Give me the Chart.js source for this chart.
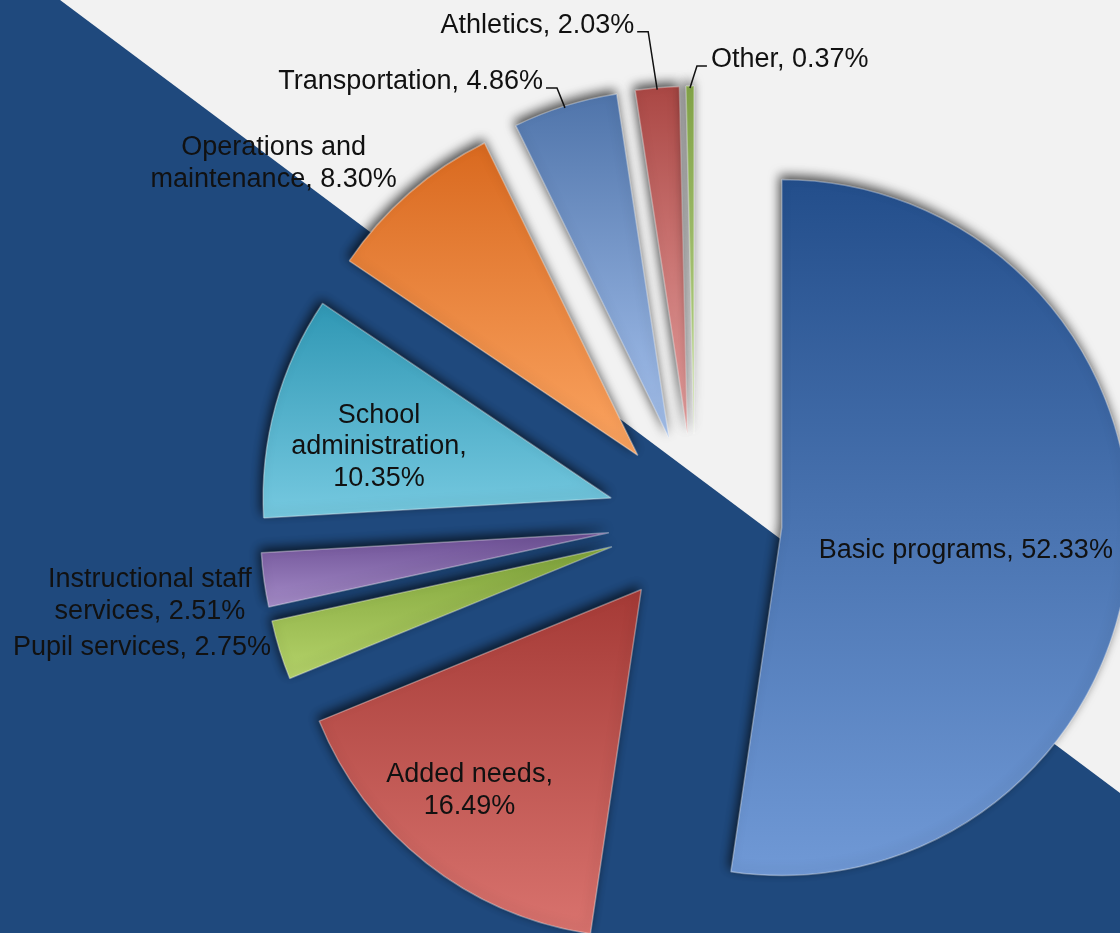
<!DOCTYPE html>
<html><head><meta charset="utf-8">
<script src="https://cdn.jsdelivr.net/npm/chart.js@4"></script>
<style>html,body{margin:0;padding:0;background:#f2f2f2;overflow:hidden}#wrap{width:1120px;height:933px;position:relative}</style>
</head><body><div id="wrap"><canvas id="c" width="1120" height="933"></canvas></div>
<script>
// ---- data ----
const categories = ['Basic programs','Added needs','Pupil services','Instructional staff services','School administration','Operations and maintenance','Transportation','Athletics','Other'];
const shares = [52.33,16.49,2.75,2.51,10.35,8.30,4.86,2.03,0.37];

// ---- styles / layout ----
const gradTop    = ['#234e8b','#a53a36','#7fa33a','#6c4f94','#2f97b4','#d9691f','#4f74aa','#aa4744','#86a84a'];
const gradBottom = ['#7099d6','#d9736e','#b5d36a','#a58cc8','#76c9e0','#fba461','#a6c2ee','#eda5a4','#c8e49a'];
const RADIUS = 348;
const EXPLODE = 0.25;           // explosion as fraction of radius
const FONT = '27px "Liberation Sans", Arial, sans-serif';
const LINE_H = 31.5;
// words per line for each label
const wraps = [[4],[2,1],[3],[2,2],[1,1,1],[2,2],[2],[2],[2]];
// label placement: polar from slice apex (deg clockwise from top, r as fraction of radius) or leader
const labelSpecs = [
  {type:'polar', deg:97.1, r:0.533},
  {type:'polar', deg:220.5, r:0.760},
  {type:'polar', deg:257.9, r:1.381},
  {type:'polar', deg:262.2, r:1.331},
  {type:'polar', deg:282.4, r:0.683},
  {type:'polar', deg:308.7, r:1.341},
  {type:'leader', dx:-19, dy:-18, side:'left'},
  {type:'leader', dx:-20, dy:-56, side:'left'},
  {type:'leader', dx:17, dy:-20, side:'right'}
];

function labelText(i){
  const words = (categories[i] + ', ' + shares[i].toFixed(2) + '%').split(' ');
  const out = []; let k = 0;
  wraps[i].forEach(n => { out.push(words.slice(k, k+n).join(' ')); k += n; });
  if (k < words.length) out[out.length-1] += ' ' + words.slice(k).join(' ');
  return out;
}

function sliceFill(c){
  const i = c.dataIndex;
  const chart = c.chart;
  const area = chart.chartArea;
  if (i === undefined || !area) return gradTop[i || 0];
  const total = shares.reduce((a,b)=>a+b,0);
  let a0 = -Math.PI/2;
  for (let k=0;k<i;k++) a0 += shares[k]/total*2*Math.PI;
  const a1 = a0 + shares[i]/total*2*Math.PI;
  const cy = (area.top+area.bottom)/2;
  let minY = cy, maxY = cy;
  for (let s=0;s<=60;s++){ const t=a0+(a1-a0)*s/60; const y=cy+Math.sin(t)*RADIUS; minY=Math.min(minY,y); maxY=Math.max(maxY,y); }
  const g = chart.ctx.createLinearGradient(0,minY,0,maxY);
  g.addColorStop(0, gradTop[i]);
  g.addColorStop(1, gradBottom[i]);
  return g;
}

const bgPlugin = {
  id:'bg',
  beforeDraw(chart){
    const {ctx, width:w, height:h} = chart;
    ctx.save();
    ctx.fillStyle = '#f2f2f2'; ctx.fillRect(0,0,w,h);
    ctx.fillStyle = '#1f497d';
    ctx.beginPath(); ctx.moveTo(0,0); ctx.lineTo(w*0.0536,0); ctx.lineTo(w,h*0.85); ctx.lineTo(w,h); ctx.lineTo(0,h); ctx.closePath(); ctx.fill();
    ctx.restore();
  }
};

const explodePlugin = {
  id:'explode',
  beforeDatasetDraw(chart, args){
    const ctx = chart.ctx;
    args.meta.data.forEach(arc => {
      const mid = (arc.startAngle + arc.endAngle)/2;
      const d = arc.outerRadius * EXPLODE;
      ctx.save();
      ctx.translate(Math.cos(mid)*d, Math.sin(mid)*d);
      ctx.shadowColor = 'rgba(0,0,0,0.7)';
      ctx.shadowBlur = 11; ctx.shadowOffsetX = -2; ctx.shadowOffsetY = -4;
      arc.draw(ctx, chart.chartArea);
      ctx.restore();
    });
    return false;
  }
};

const labelPlugin = {
  id:'labels',
  afterDatasetsDraw(chart){
    const ctx = chart.ctx;
    const meta = chart.getDatasetMeta(0);
    ctx.save();
    ctx.font = FONT; ctx.fillStyle = '#111'; ctx.strokeStyle = '#111'; ctx.lineWidth = 1.5;
    ctx.textBaseline = 'middle';
    meta.data.forEach((arc, i) => {
      const mid = (arc.startAngle + arc.endAngle)/2;
      const R = arc.outerRadius;
      const d = R * EXPLODE;
      const ax = arc.x + Math.cos(mid)*d, ay = arc.y + Math.sin(mid)*d;
      const spec = labelSpecs[i];
      const lines = labelText(i);
      if (spec.type === 'polar'){
        const ang = (spec.deg - 90) * Math.PI/180;
        const px = ax + Math.cos(ang)*spec.r*R, py = ay + Math.sin(ang)*spec.r*R;
        ctx.textAlign = 'center';
        lines.forEach((t, k) => ctx.fillText(t, px, py + (k - (lines.length-1)/2)*LINE_H));
      } else {
        const ex = ax + Math.cos(mid)*R, ey = ay + Math.sin(mid)*R;
        const nx = ex + spec.dx, ny = ey + spec.dy;
        const elbowX = spec.side === 'left' ? nx + 11 : nx - 10;
        ctx.beginPath(); ctx.moveTo(ex, ey + 2); ctx.lineTo(elbowX, ny); ctx.lineTo(nx, ny); ctx.stroke();
        ctx.textAlign = spec.side === 'left' ? 'right' : 'left';
        const tx = spec.side === 'left' ? nx - 3 : nx + 4;
        ctx.fillText(lines.join(' '), tx, ny - 6);
      }
    });
    ctx.restore();
  }
};

new Chart(document.getElementById('c'), {
  type:'pie',
  data:{ labels: categories, datasets:[{ data: shares, backgroundColor: sliceFill, borderColor:'rgba(255,255,255,0.35)', borderWidth:1.5, radius: RADIUS }] },
  options:{
    responsive:false, animation:false, events:[], radius: RADIUS,
    layout:{ padding:{ left:270, top:109, right:0, bottom:0 } },
    plugins:{ legend:{display:false}, tooltip:{enabled:false} }
  },
  plugins:[bgPlugin, explodePlugin, labelPlugin]
});
</script></body></html>
